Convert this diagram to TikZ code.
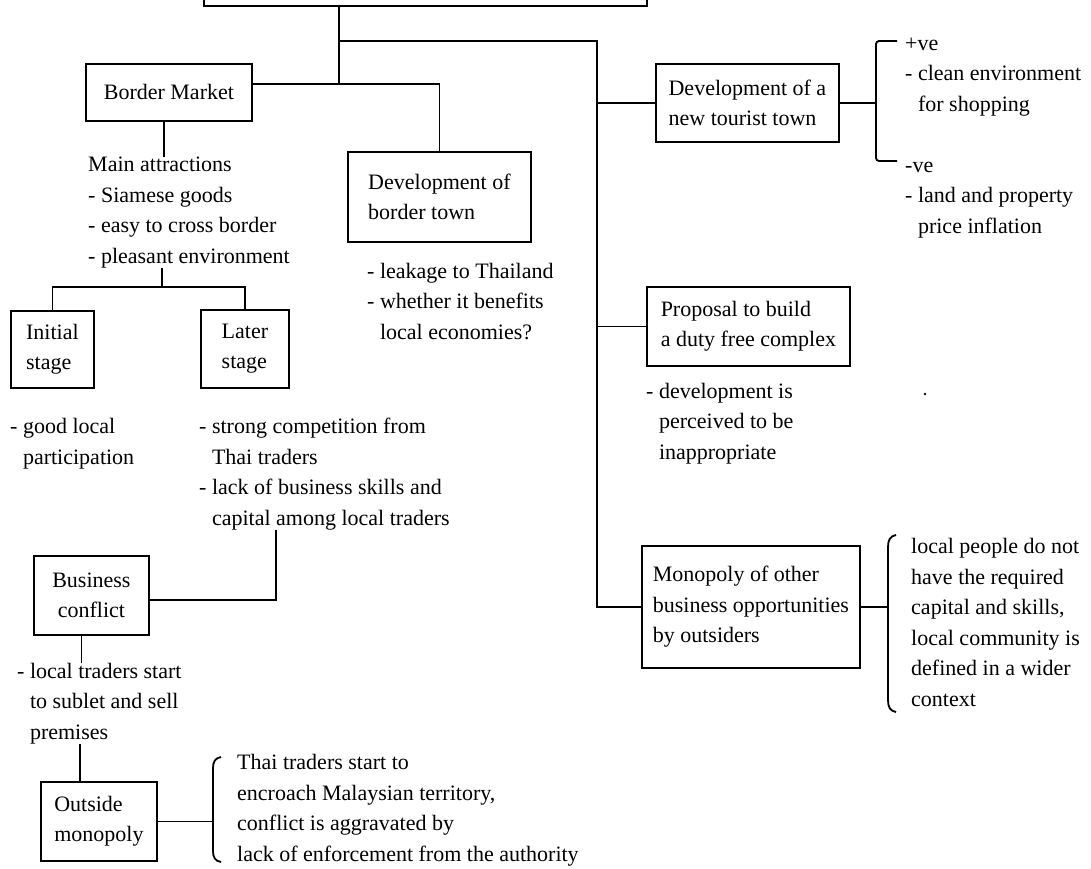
\documentclass[tikz,border=0pt]{standalone}
\usepackage{fontspec}
\setmainfont{Liberation Serif}
% indent that lines a continuation up after a leading "- "
\newcommand\dashind{\phantom{- }}
\begin{document}
\begin{tikzpicture}[x=1pt,y=-1pt,
  every node/.style={font=\fontsize{22}{30.5}\selectfont},
  box/.style={draw, line width=1.8pt, align=left, inner xsep=8pt, inner ysep=0pt, anchor=north west},
  % notes are placed by the baseline of their last line
  note/.style={align=left, inner sep=0pt, anchor=base west},
  link/.style={line width=1.8pt}]
\useasboundingbox (0,0) rectangle (1091,868);
\clip (0,0) rectangle (1091,868);
\fill[white] (0,0) rectangle (1091,868);

% boxes
\node[box, minimum width=443pt, minimum height=60pt, anchor=south west] (root) at (203,7) {};
\node[box, minimum width=166pt, minimum height=57pt] (bm) at (85,63) {Border Market};
\node[box, minimum width=183pt, minimum height=90pt] (dbt) at (347,151) {Development of\\border town};
\node[box, minimum width=83pt, minimum height=77pt] (init) at (10,310) {Initial\\stage};
\node[box, minimum width=88pt, minimum height=78pt] (later) at (200,309) {Later\\stage};
\node[box, align=center, minimum width=115pt, minimum height=79pt] (bc) at (33,555) {Business\\conflict};
\node[box, minimum width=116pt, minimum height=79pt] (om) at (40,781) {Outside\\monopoly};
\node[box, minimum width=183pt, minimum height=78pt] (dtt) at (655,63) {Development of a\\new tourist town};
\node[box, minimum width=203pt, minimum height=79pt] (prop) at (646,286) {Proposal to build\\a duty free complex};
\node[box, minimum width=218pt, minimum height=122pt] (mono) at (641,545) {Monopoly of other\\business opportunities\\by outsiders};

% notes
\node[note] (attr) at (88,263) {Main attractions\\- Siamese goods\\- easy to cross border\\- pleasant environment};
\node[note] (dbtnote) at (367,339) {- leakage to Thailand\\- whether it benefits\\\dashind local economies?};
\node[note] (initnote) at (10,464) {- good local\\\dashind participation};
\node[note] (laternote) at (199,525) {- strong competition from\\\dashind Thai traders\\- lack of business skills and\\\dashind capital among local traders};
\node[note] (bcnote) at (17,739) {- local traders start\\\dashind to sublet and sell\\\dashind premises};
\node[note] (omnote) at (237,861) {Thai traders start to\\encroach Malaysian territory,\\conflict is aggravated by\\lack of enforcement from the authority};
\node[note] (pos) at (905,111) {+ve\\- clean environment\\\dashind for shopping};
\node[note] (neg) at (905,233) {-ve\\- land and property\\\dashind price inflation};
\node[note] (propnote) at (646,459) {- development is\\\dashind perceived to be\\\dashind inappropriate};
\node[note] (mononote) at (911,706) {local people do not\\have the required\\capital and skills,\\local community is\\defined in a wider\\context};

% trunk and branches
\coordinate (j0) at (339,84);
\coordinate (j1) at (339,41);
\coordinate (r0) at (597,41);
\draw[link] (root.south -| j0) -- (j0);
\draw[link] (bm.east |- j0) -- (j0 -| dbt.north) -- (dbt.north);
\draw[link] (j1) -- (r0) -- (r0 |- mono.west) -- (mono.west);
\draw[link] (r0 |- dtt.west) -- (dtt.west);
\draw[link] (r0 |- prop.west) -- (prop.west);

% border market chain
\coordinate (s0) at (162,287);
\draw[link] ([xshift=-5pt]bm.south) -- ([xshift=-5pt]bm.south |- attr.north);
\draw[link] (s0 |- attr.south) -- (s0);
\draw[link] (init.north) |- (s0) -| (later.north);
\coordinate (s1) at (276,600);
\draw[link] (s1 |- laternote.south) -- (s1) -- (s1 -| bc.east);
\draw[link] ([xshift=-10pt]bc.south) -- ([xshift=-10pt]bc.south |- bcnote.north);
\draw[link] ([xshift=-19pt]om.north) -- ([xshift=-19pt]om.north |- bcnote.south);

% brackets
\coordinate (t0) at (876,41);
\coordinate (t1) at (876,161);
\draw[link, rounded corners=3pt] (897,41) -- (t0) -- (t1) -- (897,161);
\draw[link] (dtt.east) -- (dtt.east -| t0);

\coordinate (m0) at (888,600);
\draw[link] (896,535) .. controls (890,536) and (888,540) .. (888,547) -- (888,700) .. controls (888,707) and (890,711) .. (896,712);
\draw[link] (mono.east) -- (mono.east -| m0);

\coordinate (o0) at (213,815);
\draw[link] (221,757) .. controls (215,758) and (213,762) .. (213,768) -- (213,851) .. controls (213,857) and (215,861) .. (221,862);
\draw[link] (om.east) -- (om.east -| o0);

\fill (925,394) circle (1.3pt);
\end{tikzpicture}
\end{document}
